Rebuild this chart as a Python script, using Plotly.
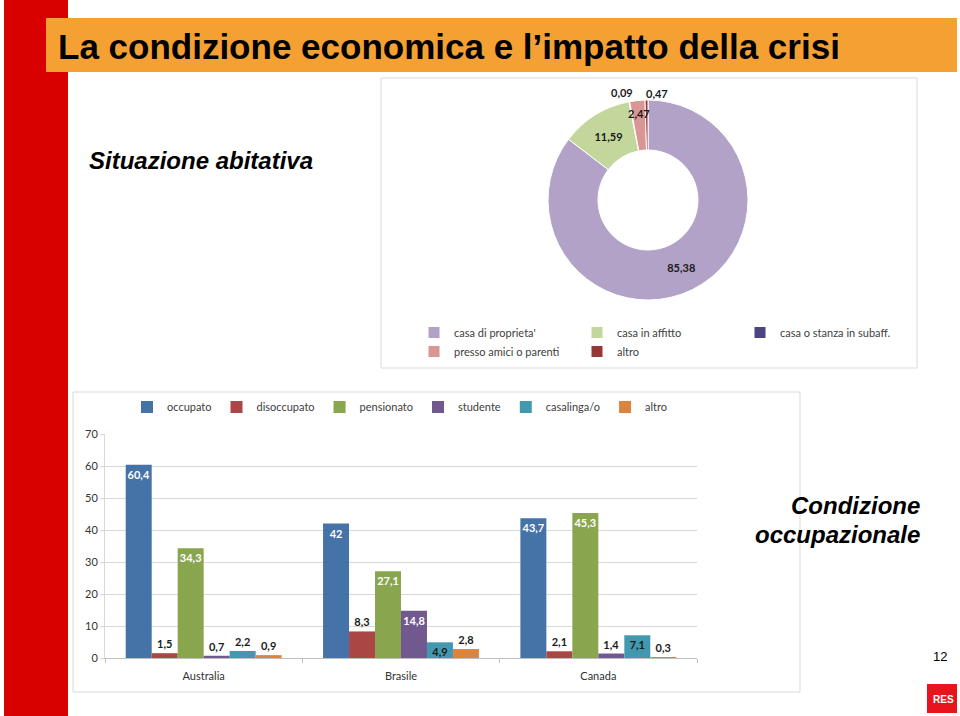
import math
import plotly.graph_objects as go

W, H = 960, 716
ML, MR = 105, 212           # plot-area margins (left/right), in px
PW = W - ML - MR            # plot-area width

# ---------------- data ----------------
housing_labels = ["casa di proprieta'", "casa in affitto", "casa o stanza in subaff.",
                  "presso amici o parenti", "altro"]
housing_values = [85.38, 11.59, 0.09, 2.47, 0.47]

countries = ["Australia", "Brasile", "Canada"]
occupato = [60.4, 42, 43.7]
disoccupato = [1.5, 8.3, 2.1]
pensionato = [34.3, 27.1, 45.3]
studente = [0.7, 14.8, 1.4]
casalinga = [2.2, 4.9, 7.1]
altro = [0.9, 2.8, 0.3]
series_names = ["occupato", "disoccupato", "pensionato", "studente", "casalinga/o", "altro"]
series_values = [occupato, disoccupato, pensionato, studente, casalinga, altro]
y_ticks = [0, 10, 20, 30, 40, 50, 60, 70]

# ---------------- styles ----------------
housing_colors = ["#B3A2C7", "#C3D69B", "#4B4582", "#D99694", "#953735"]
housing_inside = [True, True, False, False, False]
# small-slice labels: (radius factor, anchor, x shift)
small_label_style = {2: (1.09, "right", 7), 3: (0.865, "center", 0), 4: (1.07, "left", -2)}
bar_colors = ["#4572A7", "#AA4643", "#89A54E", "#71588F", "#4198AF", "#DB843D"]
inside_min = [0, 1e9, 0, 10, 4, 1e9]       # value above which the label sits inside
inside_color = ["white", "white", "white", "white", "#1A1A1A", "white"]
label_font = "Lato, 'Open Sans', sans-serif"
title_font = "Liberation Sans, Arial, sans-serif"

PIE_CX, PIE_CY, PIE_R = 648, 200, 100


def px(x):
    """pixel x -> paper x (relative to the plot area)"""
    return (x - ML) / PW


def cx(x):
    """pixel x -> container x"""
    return x / W


def py(y):
    return 1 - y / H


def fmt(v):
    return f"{v:g}".replace(".", ",")


fig = go.Figure()

# ---------------- donut ----------------
fig.add_trace(go.Pie(
    labels=housing_labels,
    values=housing_values,
    text=[fmt(v) if ins else "" for v, ins in zip(housing_values, housing_inside)],
    texttemplate="%{text}",
    textposition="inside",
    insidetextorientation="horizontal",
    textfont=dict(family=label_font, size=11, color="#1A1A1A", weight="bold"),
    marker=dict(colors=housing_colors, line=dict(color="white", width=1)),
    hole=0.5,
    sort=False,
    direction="clockwise",
    rotation=0,
    domain=dict(x=[px(PIE_CX - PIE_R), min(1.0, px(PIE_CX + PIE_R))],
                y=[py(PIE_CY + PIE_R), py(PIE_CY - PIE_R)]),
    legend="legend",
    hoverinfo="label+value",
))

# labels of the thin slices, placed along each slice's mid angle
annotations = []
total = sum(housing_values)
cum = 0.0
for i, v in enumerate(housing_values):
    mid = (cum + v / 2) / total * 2 * math.pi
    cum += v
    if i in small_label_style:
        rf, anchor, xs = small_label_style[i]
        x = PIE_CX + rf * PIE_R * math.sin(mid)
        y = PIE_CY - rf * PIE_R * math.cos(mid)
        annotations.append(dict(
            text=fmt(v), xref="paper", yref="paper", x=px(x), y=py(y),
            xanchor=anchor, yanchor="middle", xshift=xs, showarrow=False,
            font=dict(family=label_font, size=11, color="#1A1A1A", weight="bold")))

# ---------------- grouped bars ----------------
for i, (name, vals) in enumerate(zip(series_names, series_values)):
    pos = ["inside" if v >= inside_min[i] else "outside" for v in vals]
    fig.add_trace(go.Bar(
        name=name,
        x=countries,
        y=vals,
        text=[fmt(v) for v in vals],
        texttemplate="%{text}",
        textposition=pos,
        textangle=0,
        insidetextanchor="end",
        constraintext="none",
        cliponaxis=False,
        insidetextfont=dict(family=label_font, size=11, color=inside_color[i], weight="bold"),
        outsidetextfont=dict(family=label_font, size=11, color="#1A1A1A", weight="bold"),
        marker=dict(color=bar_colors[i], line=dict(width=0)),
        legend="legend2",
        xaxis="x", yaxis="y",
    ))

shapes = [
    dict(type="rect", xref="paper", yref="paper", x0=px(4), x1=px(68), y0=py(716), y1=py(0),
         fillcolor="#D90000", line=dict(width=0), layer="below"),
    dict(type="rect", xref="paper", yref="paper", x0=px(46), x1=px(957), y0=py(72), y1=py(18),
         fillcolor="#F5A033", line=dict(width=0), layer="below"),
    dict(type="rect", xref="paper", yref="paper", x0=px(381), x1=px(917), y0=py(368), y1=py(78),
         fillcolor="rgba(0,0,0,0)", line=dict(color="#D9D9D9", width=1), layer="below"),
    dict(type="rect", xref="paper", yref="paper", x0=px(73), x1=px(800), y0=py(692), y1=py(392),
         fillcolor="rgba(0,0,0,0)", line=dict(color="#D9D9D9", width=1), layer="below"),
    dict(type="rect", xref="paper", yref="paper", x0=px(927), x1=px(957), y0=py(713), y1=py(684),
         fillcolor="#E8141B", line=dict(width=0)),
]

annotations += [
    dict(text="La condizione economica e l’impatto della crisi", xref="paper", yref="paper",
         x=px(56), y=py(46), xanchor="left", yanchor="middle", showarrow=False,
         font=dict(family=title_font, size=35, color="black", weight="bold")),
    dict(text="<i>Situazione abitativa</i>", xref="paper", yref="paper",
         x=px(87), y=py(160), xanchor="left", yanchor="middle", showarrow=False,
         font=dict(family=title_font, size=24, color="black", weight="bold")),
    dict(text="<i>Condizione</i>", xref="paper", yref="paper",
         x=px(922), y=py(505), xanchor="right", yanchor="middle", showarrow=False,
         font=dict(family=title_font, size=24, color="black", weight="bold")),
    dict(text="<i>occupazionale</i>", xref="paper", yref="paper",
         x=px(922), y=py(534), xanchor="right", yanchor="middle", showarrow=False,
         font=dict(family=title_font, size=24, color="black", weight="bold")),
    dict(text="12", xref="paper", yref="paper",
         x=px(940), y=py(656), xanchor="center", yanchor="middle", showarrow=False,
         font=dict(family=title_font, size=13, color="black")),
    dict(text="RES", xref="paper", yref="paper",
         x=px(943), y=py(699), xanchor="center", yanchor="middle", showarrow=False,
         font=dict(family=title_font, size=10, color="white", weight="bold")),
]

fig.update_layout(
    width=W, height=H,
    margin=dict(l=ML, r=MR, t=0, b=0, autoexpand=False),
    paper_bgcolor="white", plot_bgcolor="white",
    barmode="group", bargap=0.21, bargroupgap=0,
    showlegend=True,
    shapes=shapes,
    annotations=annotations,
    xaxis=dict(domain=[px(105), px(697)], showgrid=False, showline=True, linecolor="#BFBFBF",
               ticks="outside", tickson="boundaries", ticklen=4, tickcolor="#BFBFBF",
               ticklabelstandoff=8,
               tickfont=dict(family=label_font, size=11, color="#333333"),
               anchor="y", fixedrange=True, automargin=False),
    yaxis=dict(domain=[py(658), py(434)], range=[0, 70], tickvals=y_ticks,
               showgrid=True, gridcolor="#D9D9D9", gridwidth=1, zeroline=False,
               showline=True, linecolor="#D9D9D9", ticks="outside", ticklen=4, tickcolor="#D9D9D9",
               tickfont=dict(family=label_font, size=11, color="#333333"),
               anchor="x", fixedrange=True, automargin=False),
    legend=dict(orientation="h", x=cx(414), y=py(318), xanchor="left", yanchor="top",
                xref="container", yref="container", entrywidth=118, entrywidthmode="pixels",
                font=dict(family=label_font, size=11, color="#404040"),
                bgcolor="rgba(0,0,0,0)"),
    legend2=dict(orientation="h", x=cx(400), y=py(407), xanchor="center", yanchor="middle",
                 xref="container", yref="container",
                 font=dict(family=label_font, size=11, color="#404040"),
                 bgcolor="rgba(0,0,0,0)"),
)

fig.write_html(
    "out.html",
    config={"displayModeBar": False},
    post_script=("document.body.style.margin='0';document.body.style.overflow='hidden';"
                 "var gd=document.getElementById('{plot_id}');"
                 "gd.style.position='absolute';gd.style.left='0px';gd.style.top='0px';"),
)
